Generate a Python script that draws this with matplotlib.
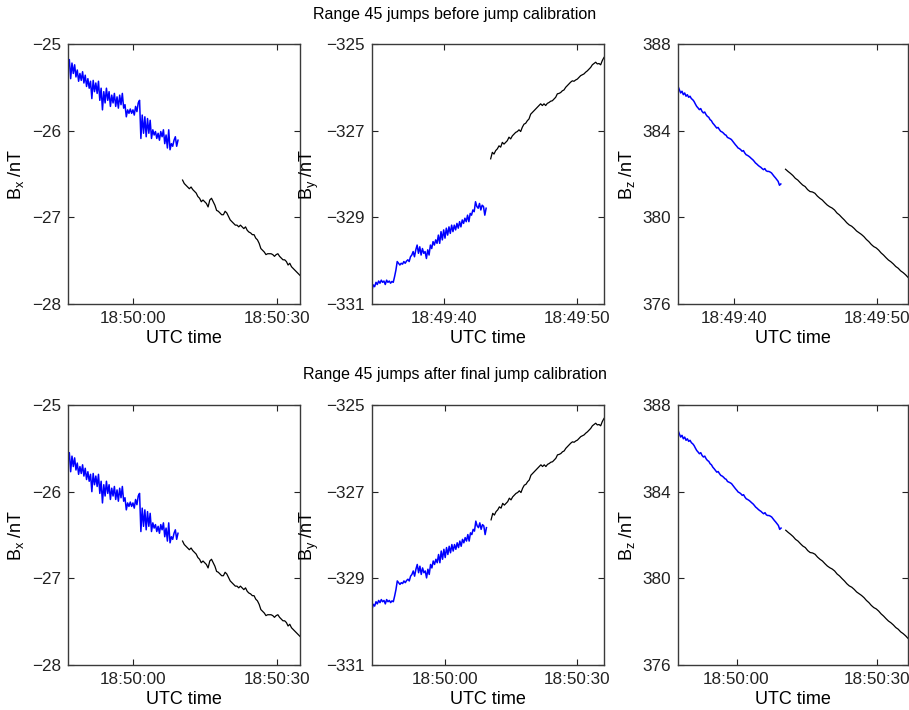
import numpy as np
import matplotlib
matplotlib.use("Agg")
import matplotlib.pyplot as plt
from matplotlib.ticker import FuncFormatter

plt.rcParams['font.family'] = ['Liberation Sans', 'DejaVu Sans']
plt.rcParams['mathtext.default'] = 'regular'

# seconds are counted from 18:49:00 UTC
T0 = 18 * 3600 + 49 * 60

# Bx samples before jump calibration (blue = range 45 part, black = rest)
bx_blue = [-25.26, -25.18, -25.40, -25.22, -25.34, -25.24, -25.38, -25.30, -25.43, -25.34,
           -25.42, -25.32, -25.45, -25.36, -25.49, -25.40, -25.51, -25.43, -25.63, -25.42,
           -25.55, -25.45, -25.57, -25.43, -25.65, -25.51, -25.76, -25.55, -25.68, -25.51,
           -25.65, -25.55, -25.72, -25.59, -25.68, -25.57, -25.72, -25.61, -25.74, -25.59,
           -25.70, -25.57, -25.74, -25.70, -25.84, -25.76, -25.80, -25.75, -25.80, -25.76,
           -25.82, -25.72, -25.78, -25.68, -25.65, -26.09, -25.82, -26.03, -25.84, -26.07,
           -25.86, -26.03, -25.88, -26.09, -25.99, -26.05, -26.01, -26.09, -26.03, -26.11,
           -26.01, -26.07, -25.99, -26.15, -26.05, -26.20, -25.99, -26.22, -26.15, -26.18,
           -26.11, -26.07, -26.18, -26.11]
bx_black = [-26.57, -26.61, -26.63, -26.65, -26.67, -26.65, -26.68, -26.70, -26.72, -26.76,
            -26.78, -26.82, -26.80, -26.82, -26.84, -26.88, -26.80, -26.78, -26.82, -26.86,
            -26.92, -26.93, -26.95, -26.97, -26.97, -26.93, -26.95, -26.99, -27.03, -27.05,
            -27.07, -27.09, -27.09, -27.11, -27.09, -27.11, -27.13, -27.11, -27.15, -27.17,
            -27.18, -27.20, -27.20, -27.24, -27.26, -27.30, -27.36, -27.38, -27.40, -27.43,
            -27.42, -27.42, -27.42, -27.43, -27.45, -27.43, -27.42, -27.45, -27.47, -27.49,
            -27.49, -27.51, -27.55, -27.53, -27.57, -27.59, -27.61, -27.63, -27.65, -27.67]

# By samples before jump calibration
by_blue = [-330.68, -330.56, -330.60, -330.50, -330.55, -330.47, -330.52, -330.45, -330.50, -330.47,
           -330.55, -330.45, -330.50, -330.47, -330.52, -330.48, -330.50, -330.37, -330.22, -330.02,
           -330.06, -330.10, -330.06, -330.08, -330.02, -330.06, -330.01, -329.98, -330.02, -329.91,
           -329.87, -329.79, -329.91, -329.75, -329.64, -329.83, -329.68, -329.87, -329.72, -329.83,
           -329.79, -329.95, -329.75, -329.87, -329.64, -329.72, -329.56, -329.64, -329.52, -329.60,
           -329.41, -329.60, -329.33, -329.52, -329.29, -329.48, -329.25, -329.41, -329.22, -329.37,
           -329.18, -329.33, -329.18, -329.29, -329.14, -329.25, -329.10, -329.22, -329.06, -329.14,
           -329.02, -329.10, -328.95, -329.10, -328.91, -328.95, -328.83, -328.87, -328.64, -328.75,
           -328.79, -328.68, -328.83, -328.72, -328.75, -328.95, -328.79]
by_black = [-327.65, -327.50, -327.54, -327.46, -327.42, -327.35, -327.38, -327.27, -327.31, -327.27,
            -327.23, -327.15, -327.19, -327.12, -327.08, -327.04, -327.02, -326.98, -327.02, -326.92,
            -326.85, -326.83, -326.77, -326.73, -326.62, -326.58, -326.54, -326.50, -326.46, -326.42,
            -326.38, -326.42, -326.38, -326.42, -326.37, -326.35, -326.32, -326.31, -326.27, -326.23,
            -326.15, -326.14, -326.12, -326.08, -326.06, -326.00, -325.96, -325.92, -325.88, -325.85,
            -325.86, -325.83, -325.81, -325.77, -325.73, -325.71, -325.69, -325.65, -325.62, -325.58,
            -325.54, -325.48, -325.45, -325.42, -325.46, -325.45, -325.48, -325.38, -325.31]

# Bz samples before jump calibration
bz_blue = [386.05, 385.89, 385.74, 385.82, 385.66, 385.74, 385.59, 385.66, 385.54, 385.59,
           385.48, 385.43, 385.35, 385.23, 385.12, 385.05, 384.97, 385.02, 384.89, 384.82,
           384.86, 384.74, 384.66, 384.62, 384.51, 384.46, 384.35, 384.28, 384.20, 384.12,
           384.15, 384.05, 383.97, 383.94, 383.89, 383.82, 383.79, 383.69, 383.66, 383.63,
           383.59, 383.51, 383.43, 383.35, 383.28, 383.20, 383.17, 383.12, 383.05, 383.08,
           382.97, 382.89, 382.86, 382.82, 382.77, 382.71, 382.66, 382.59, 382.51, 382.46,
           382.40, 382.35, 382.31, 382.25, 382.20, 382.25, 382.15, 382.12, 382.12, 382.09,
           382.05, 381.97, 381.89, 381.82, 381.74, 381.66, 381.48, 381.54]
bz_black = [382.22, 382.12, 382.03, 381.93, 381.80, 381.72, 381.60, 381.49, 381.42, 381.28,
            381.19, 381.17, 381.11, 380.98, 380.88, 380.80, 380.68, 380.57, 380.49, 380.43,
            380.34, 380.20, 380.11, 379.99, 379.88, 379.75, 379.65, 379.59, 379.49, 379.37,
            379.29, 379.21, 379.11, 378.98, 378.88, 378.75, 378.65, 378.59, 378.49, 378.36,
            378.26, 378.14, 378.03, 377.95, 377.85, 377.73, 377.65, 377.53, 377.45, 377.35,
            377.23]

# jump corrections applied to the blue part by the final calibration
jump = {'x': -0.37, 'y': 0.96, 'z': 0.78}

# time windows (s after 18:49:00): blue start, blue end, black start, black end
win_before = {'x': (46.5, 69.4, 70.35, 94.8), 'y': (34.6, 43.16, 43.5, 52.0), 'z': (36.05, 43.27, 43.6, 52.2)}
win_after = {'x': (46.5, 69.4, 70.35, 94.8), 'y': (43.4, 69.4, 70.45, 96.1), 'z': (47.5, 69.5, 70.5, 96.6)}
ticks_before = {'x': [60, 90], 'y': [40, 50], 'z': [40, 50]}
ticks_after = {'x': [60, 90], 'y': [60, 90], 'z': [60, 90]}

ylims = {'x': (-28, -25), 'y': (-331, -325), 'z': (376, 388)}
yticks = {'x': [-28, -27, -26, -25], 'y': [-331, -329, -327, -325], 'z': [376, 380, 384, 388]}

data = {'x': (bx_blue, bx_black), 'y': (by_blue, by_black), 'z': (bz_blue, bz_black)}


def utc_fmt(v, pos):
    s = int(round(v)) + T0
    return "%02d:%02d:%02d" % (s // 3600, (s % 3600) // 60, s % 60)


W, H = 909, 710
fig = plt.figure(figsize=(W / 100, H / 100), dpi=100)

lefts = [68, 372, 678]
widths = [232, 232, 230]
tops = [44, 405]
ah = 260

for row, (win, ticks) in enumerate([(win_before, ticks_before), (win_after, ticks_after)]):
    for col, c in enumerate(['x', 'y', 'z']):
        ax = fig.add_axes([lefts[col] / W, 1 - (tops[row] + ah) / H, widths[col] / W, ah / H])
        blue, black = data[c]
        blue = np.array(blue)
        if row == 1:
            blue = blue + jump[c]
        t1, t2, t3, t4 = win[c]
        tb = np.linspace(t1, t2, len(blue))
        tk = np.linspace(t3, t4, len(black))
        ax.plot(tb, blue, color='#0000ff', lw=1.1)
        ax.plot(tk, black, color='black', lw=0.9)
        ax.set_xlim(t1, t4)
        ax.set_ylim(*ylims[c])
        ax.set_yticks(yticks[c])
        ax.set_xticks(ticks[c])
        ax.xaxis.set_major_formatter(FuncFormatter(utc_fmt))
        ax.tick_params(direction='in', top=True, right=True, length=4, width=0.8,
                       labelsize=12.3, pad=5, colors='#222222')
        for sp in ax.spines.values():
            sp.set_color('#3a3a3a')
            sp.set_linewidth(1.0)
        ax.set_xlabel('UTC time', fontsize=13, labelpad=3)
        ax.set_ylabel('B$_{%s}$ /nT' % c, fontsize=13, labelpad=4)

fig.text(0.5, 1 - 14 / H, 'Range 45 jumps before jump calibration', ha='center', va='center', fontsize=11.5)
fig.text(0.5, 1 - 375 / H, 'Range 45 jumps after final jump calibration', ha='center', va='center', fontsize=11.5)

fig.savefig('out.png', dpi=100)
